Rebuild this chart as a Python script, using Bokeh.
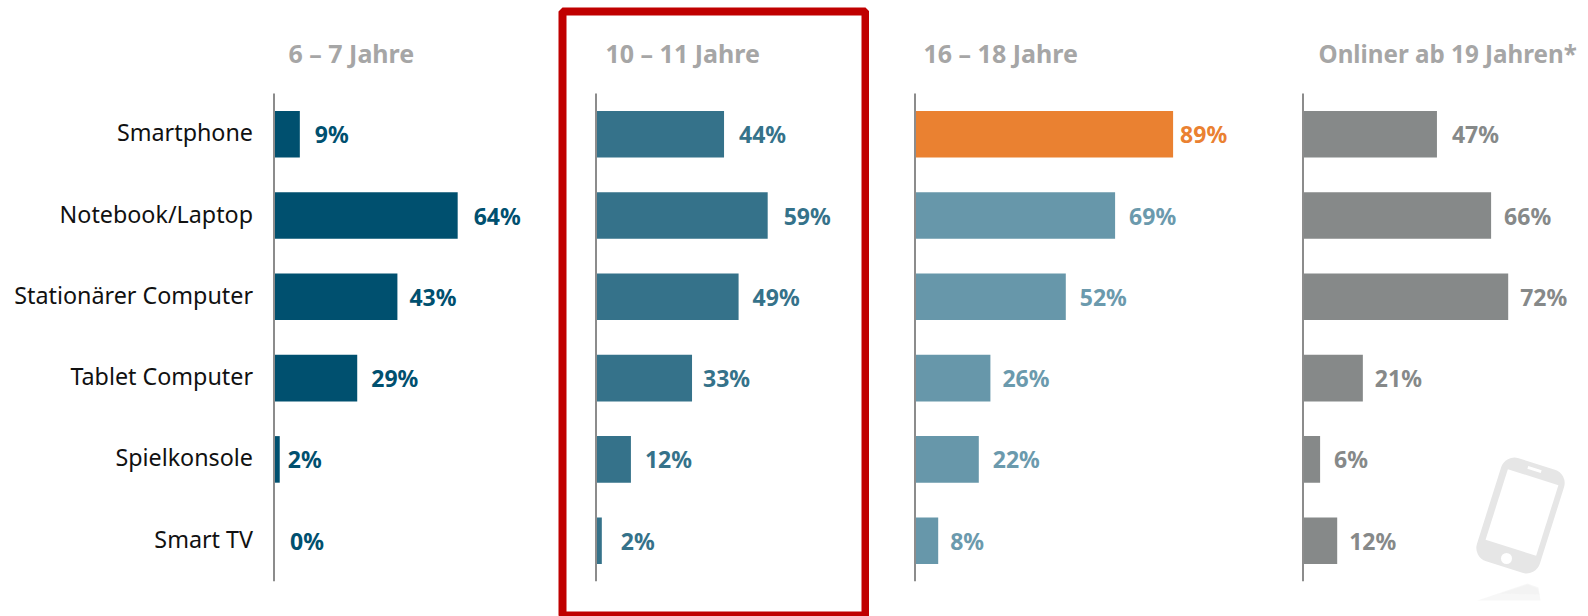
from bokeh.plotting import figure
from bokeh.layouts import row
from bokeh.models import Range1d
from bokeh.core.properties import value
from bokeh.embed import file_html
from bokeh.resources import INLINE
import math

categories = ["Smartphone", "Notebook/Laptop", "Stationärer Computer", "Tablet Computer", "Spielkonsole", "Smart TV"]
titles = ["6 – 7 Jahre", "10 – 11 Jahre", "16 – 18 Jahre", "Onliner ab 19 Jahren*"]
values_6_7 = [9, 64, 43, 29, 2, 0]
values_10_11 = [44, 59, 49, 33, 12, 2]
values_16_18 = [89, 69, 52, 26, 22, 8]
values_19 = [47, 66, 72, 21, 6, 12]

FONT = "Noto Sans"
ROW_TOP, ROW_STEP = 133.7, 81.3      # page px of first row centre, row pitch
FRAME_TOP, FRAME_BOTTOM = 11, 616


def row_of(py):
    return (py - ROW_TOP) / ROW_STEP


def panel(x0, x1, axis_px, px_per_pct, title, title_px, vals, bar_cols, lab_cols, gaps, pad=(0, 0), title_size="25px"):
    fl, fr = x0 + pad[0], x1 - pad[1]
    p = figure(
        width=x1 - x0, height=616, output_backend="svg", toolbar_location=None,
        x_range=Range1d((fl - axis_px) / px_per_pct, (fr - axis_px) / px_per_pct),
        y_range=Range1d(row_of(FRAME_BOTTOM), row_of(FRAME_TOP)),
        x_axis_location=None, y_axis_location=None,
        min_border_left=pad[0], min_border_right=pad[1],
        min_border_top=FRAME_TOP, min_border_bottom=0,
        background_fill_color="white", border_fill_color="white",
    )
    p.grid.visible = False
    p.outline_line_color = None
    rows = list(range(len(vals)))
    p.hbar(y=rows, left=0, right=vals, height=0.573, fill_color=bar_cols, line_color=None)
    p.segment(x0=[0], x1=[0], y0=[-0.5], y1=[5.5], line_color="#8c8c8c", line_width=2)
    p.text(x=vals, y=rows, text=[f"{v}%" for v in vals], x_offset=gaps, y_offset=0,
           text_color=lab_cols, text_font=value(FONT), text_font_style="bold",
           text_font_size="23px", text_baseline="middle", text_align="left")
    p.text(x=[0], y=[row_of(52.5)], text=[title], x_offset=title_px - axis_px,
           text_color="#a6a6a6", text_font=value(FONT), text_font_style="bold",
           text_font_size=title_size, text_baseline="middle", text_align="left")
    return p


dark, mid, light, grey, orange = "#00506f", "#35728a", "#6797aa", "#868989", "#ea8131"
lab_mid, lab_light = "#35728a", "#6b9aad"

p1 = panel(0, 558, 273.5, 2.87, titles[0], 288, values_6_7, [dark] * 6, [dark] * 6,
           [15, 16, 12, 14, 8, 16])
p1.text(x=[0] * 6, y=list(range(6)), text=categories, x_offset=-21, y_offset=-2, text_color="#111111",
        text_font=value(FONT), text_font_size="23.3px", text_baseline="middle", text_align="right")

p2 = panel(558, 869, 595.5, 2.91, titles[1], 605, values_10_11, [mid] * 6, [lab_mid] * 6,
           [15, 16, 14, 11, 14, 19], pad=(4, 4))
p2.outline_line_color = "#c00000"
p2.outline_line_width = 8

p3 = panel(869, 1290, 914.5, 2.9, titles[2], 923, values_16_18,
           [orange] + [light] * 5, [orange] + [lab_light] * 5, [7, 14, 14, 12, 14, 12])

p4 = panel(1290, 1588, 1302.5, 2.85, titles[3], 1318, values_19, [grey] * 6, [grey] * 6,
           [15, 13, 12, 12, 14, 12], title_size="24.2px")


# faint phone illustration, placed in page pixels through panel 4's scale
def px4(x):
    return (x - 1302.5) / 2.85


tilt = -math.radians(17.5)
for cx, cy, w, h, col, rad in [(1520, 515, 66, 108, "#e6e6e6", 14), (1521.5, 512, 53, 74, "white", 0)]:
    p4.rect(x=[px4(cx)], y=[row_of(cy)], width=w, height=h, width_units="screen", height_units="screen",
            angle=tilt, fill_color=col, line_color=None, border_radius=rad)
p4.rect(x=[px4(1534)], y=[row_of(469)], width=14, height=3, width_units="screen", height_units="screen",
        angle=tilt, fill_color="white", line_color=None)
p4.scatter(x=[px4(1506)], y=[row_of(558)], size=11, marker="circle", fill_color="white", line_color=None)
for pts in [((1477, 600), (1527, 583), (1538, 587), (1540, 600)),
            ((1500, 593), (1527, 584), (1537, 588), (1539, 594))]:
    p4.patch(x=[px4(a) for a, _ in pts], y=[row_of(b) for _, b in pts],
             fill_color="#f0f0f0", fill_alpha=0.55, line_color=None)

page = row(p1, p2, p3, p4, spacing=0)
open("out.html", "w").write(file_html(page, INLINE))
